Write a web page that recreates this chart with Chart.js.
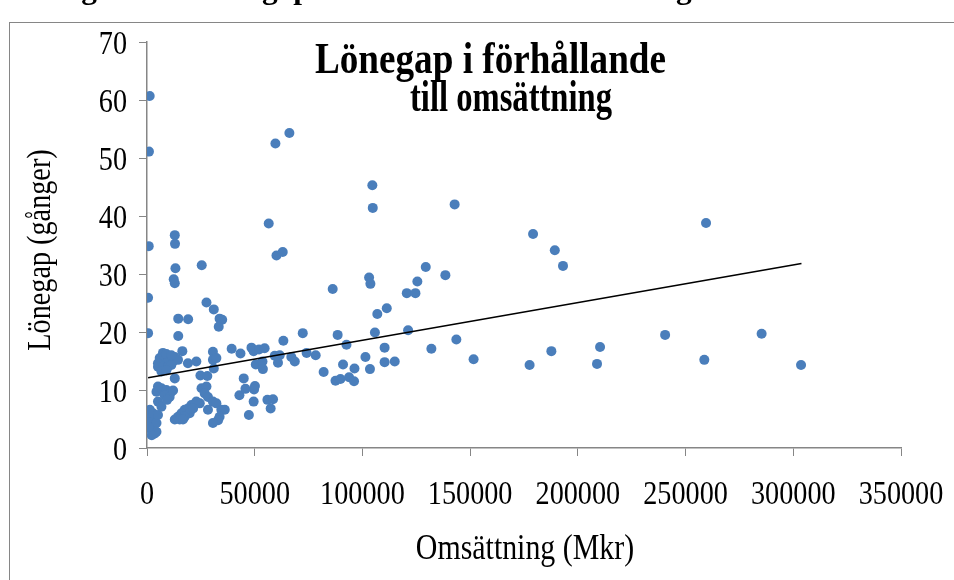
<!DOCTYPE html>
<html>
<head>
<meta charset="utf-8">
<script src="https://cdn.jsdelivr.net/npm/chart.js@4"></script>
<style>
  body { margin: 0; background: #fff; }
  canvas { display: block; }
</style>
</head>
<body>
<canvas id="lonegapChart" width="954" height="580"></canvas>
<script>
// omsättning (Mkr) per företag, läst av från bilden
var omsattning = [
  1250, 900, 800, 500, 500, 12900, 13000, 13200, 25400, 12400,
  12900, 27600, 31000, 33700, 34900, 33300, 14500, 19100, 14500, 16400,
  7400, 56500, 60100, 63000, 59600, 66100, 104600, 104800, 142800, 129400,
  138500, 125500, 120600, 124600, 103100, 103700, 86200, 111300, 106900, 179200,
  189300, 193100, 259500, 121200, 132000, 143600, 151600, 177600, 187700, 208900,
  210300, 240500, 258700, 285300, 303600, 72300, 88500, 105800, 63300, 92600,
  110300, 101400, 78300, 74100, 91000, 110300, 115000, 96300, 103500, 82000,
  87500, 89800, 93800, 96100, 39300, 43400, 48500, 49500, 52000, 54600,
  59300, 61600, 67000, 68600, 50500, 53600, 53800, 60800, 44900, 50100,
  49700, 42900, 45700, 49500, 55900, 58500, 57400, 47300, 36100, 12900,
  25300, 27600, 26800, 28300, 30600, 32200, 28300, 34500, 33700, 33000,
  30600, 22900, 20600, 19000, 17500, 16000, 14400, 12900, 19800, 17500,
  24500, 15200, 21400, 16700, 1300, 500, 2000, 500, 2800, 2000,
  3600, 1300, 4400, 2800, 5100, 4400, 2200, 800, 5100, 6700,
  4400, 6700, 9000, 11300, 8200, 10500, 9300, 12100, 5100, 5900,
  8200, 10500, 12900, 5100, 9000, 12100, 14400, 19000, 22900, 30600,
  30600, 32200, 5100, 7400, 9700, 11300, 6700, 9000, 24800, 28000,
  31000, 9000, 11300
];
// lönegap (gånger)
var lonegap = [
  60.7, 51.1, 34.8, 25.9, 19.8, 36.7, 35.2, 31.0, 31.5, 29.1,
  28.4, 25.1, 23.9, 22.3, 22.1, 20.9, 22.3, 22.2, 19.3, 16.7,
  16.4, 38.7, 33.2, 33.8, 52.5, 54.3, 45.3, 41.4, 42.0, 31.2,
  29.8, 28.7, 26.7, 26.7, 29.4, 28.3, 27.4, 24.1, 23.1, 36.9,
  34.1, 31.4, 38.8, 20.3, 17.1, 18.7, 15.3, 14.3, 16.7, 14.5,
  17.4, 19.5, 15.2, 19.7, 14.3, 19.8, 19.5, 19.9, 18.5, 17.8,
  17.3, 15.7, 16.0, 16.4, 14.4, 14.8, 14.9, 13.7, 13.6, 13.1,
  11.6, 11.9, 12.2, 11.5, 17.1, 16.3, 17.3, 16.7, 17.0, 17.2,
  15.9, 16.0, 15.7, 14.9, 14.4, 14.9, 13.6, 14.7, 12.0, 10.7,
  10.1, 9.1, 10.2, 8.0, 8.3, 8.4, 6.8, 5.7, 6.6, 12.0,
  10.3, 10.6, 9.4, 8.8, 8.0, 7.7, 6.6, 6.6, 5.4, 4.8,
  4.3, 8.0, 7.4, 6.8, 6.6, 6.0, 5.4, 4.9, 6.0, 5.4,
  7.7, 4.9, 6.8, 4.9, 6.6, 5.7, 5.1, 4.3, 3.7, 3.1,
  2.5, 4.5, 4.3, 6.0, 5.7, 2.8, 2.2, 3.6, 8.0, 7.1,
  9.7, 10.3, 10.0, 9.7, 9.1, 8.8, 8.3, 9.9, 10.6, 15.5,
  15.7, 15.5, 15.7, 14.6, 14.6, 14.9, 15.2, 14.6, 14.9, 16.6,
  15.2, 15.5, 14.0, 14.0, 14.0, 14.3, 13.2, 13.4, 12.5, 12.4,
  13.7, 16.2, 16.0
];

// trendlinjen, ändpunkter avlästa
var trendX = [500, 303800];
var trendY = [12.1, 31.8];

var xTicks = { min: 0, max: 350000, step: 50000 };
var yTicks = { min: 0, max: 70, step: 10 };

var serif = "'Liberation Serif', 'Times New Roman', serif";
var axisGray = '#868686';
var squeeze = 0.83; // texten i originalet är smal och hög

var points = omsattning.map(function (x, i) {
  return { x: x, y: lonegap[i] };
});
var trend = trendX.map(function (x, i) {
  return { x: x, y: trendY[i] };
});

// skriver text hoptryckt i sidled (k) och ev. roterad
function drawText(c, txt, x, y, size, bold, k, align, rot) {
  c.save();
  c.translate(x, y);
  if (rot) c.rotate(rot);
  c.scale(k, 1);
  c.font = (bold ? 'bold ' : '') + size + 'px ' + serif;
  c.textAlign = align;
  c.textBaseline = 'alphabetic';
  c.fillStyle = '#000';
  c.fillText(txt, 0, 0);
  c.restore();
}

// text anpassad till en given bredd
function fitText(c, txt, cx, y, size, bold, width) {
  c.font = (bold ? 'bold ' : '') + size + 'px ' + serif;
  var k = width / c.measureText(txt).width;
  drawText(c, txt, cx, y, size, bold, k, 'center');
}

var decor = {
  id: 'decor',
  beforeDraw: function (chart) {
    var c = chart.ctx;
    c.save();
    c.fillStyle = '#fff';
    c.fillRect(0, 0, chart.width, chart.height);
    c.strokeStyle = axisGray;
    c.lineWidth = 1;
    c.strokeRect(9.5, 22.5, chart.width + 20, chart.height + 20);

    // rubriken ovanför, bara nederkanten syns
    var caption = 'Diagram 4: Lönegap i förhållande till omsättning';
    c.font = 'bold 30px ' + serif;
    var k = 414 / c.measureText('gap i förhållande till omsättnin').width;
    var pre = c.measureText('Diagram 4: Löne').width * k;
    drawText(c, caption, 262 - pre, -1, 30, true, k, 'left');
    c.restore();
  },
  afterDraw: function (chart) {
    var c = chart.ctx;
    var xs = chart.scales.x;
    var ys = chart.scales.y;

    xs.ticks.forEach(function (t) {
      drawText(c, String(t.value), xs.getPixelForValue(t.value), 504, 34, false, squeeze, 'center');
    });
    ys.ticks.forEach(function (t) {
      drawText(c, String(t.value), 127, ys.getPixelForValue(t.value) + 11.5, 34, false, squeeze, 'right');
    });

    drawText(c, 'Omsättning (Mkr)', 525, 559, 36, false, squeeze, 'center');
    drawText(c, 'Lönegap (gånger)', 50, 250, 34, false, squeeze, 'center', -Math.PI / 2);

    fitText(c, 'Lönegap i förhållande', 490.5, 73, 44, true, 351);
    fitText(c, 'till omsättning', 511, 111, 44, true, 202);
  }
};

var ctx = document.getElementById('lonegapChart').getContext('2d');
var myChart = new Chart(ctx, {
  type: 'scatter',
  data: {
    datasets: [
      {
        type: 'line',
        data: trend,
        borderColor: '#000',
        borderWidth: 1.6,
        pointRadius: 0,
        fill: false
      },
      {
        data: points,
        backgroundColor: '#4a7ebb',
        borderColor: '#4a7ebb',
        borderWidth: 0,
        pointRadius: 5
      }
    ]
  },
  options: {
    responsive: false,
    animation: false,
    devicePixelRatio: 1,
    layout: { padding: { top: 42, right: 53, left: 0, bottom: 0 } },
    plugins: {
      legend: { display: false },
      tooltip: { enabled: false }
    },
    scales: {
      x: {
        type: 'linear',
        min: xTicks.min,
        max: xTicks.max,
        afterFit: function (s) {
          s.height = 132;
          s.paddingLeft = 0;
          s.paddingRight = 0;
        },
        ticks: { stepSize: xTicks.step, display: false },
        grid: { drawOnChartArea: false, drawTicks: true, tickLength: 8, color: axisGray },
        border: { display: true, color: axisGray, width: 1.5 }
      },
      y: {
        min: yTicks.min,
        max: yTicks.max,
        afterFit: function (s) {
          s.width = 147;
          s.paddingTop = 0;
          s.paddingBottom = 0;
        },
        ticks: { stepSize: yTicks.step, display: false },
        grid: { drawOnChartArea: false, drawTicks: true, tickLength: 8, color: axisGray },
        border: { display: true, color: axisGray, width: 1.5 }
      }
    }
  },
  plugins: [decor]
});
</script>
</body>
</html>
